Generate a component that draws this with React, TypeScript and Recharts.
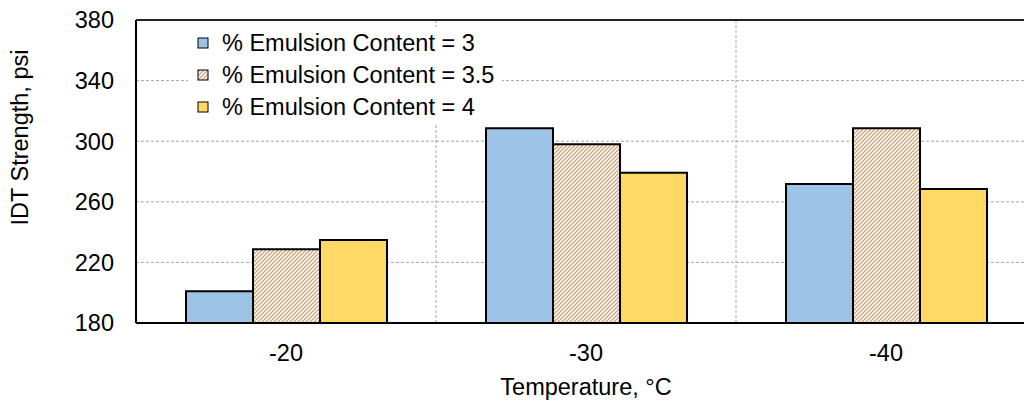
import React from "react";
import {
  BarChart,
  Bar,
  XAxis,
  YAxis,
  CartesianGrid,
  Legend,
  ReferenceLine,
} from "recharts";

const categories = ["-20", "-30", "-40"];
const emulsion3 = [201, 308.5, 271.7];
const emulsion35 = [228.6, 298, 308.5];
const emulsion4 = [234.8, 279.2, 268.4];
const yTicks = [180, 220, 260, 300, 340, 380];

const SERIES = [
  { key: "e3", name: "% Emulsion Content = 3", fill: "#9DC3E6" },
  { key: "e35", name: "% Emulsion Content = 3.5", fill: "url(#hatch)" },
  { key: "e4", name: "% Emulsion Content = 4", fill: "#FFD966" },
];

const data = categories.map((c, i) => ({
  temp: c,
  e3: emulsion3[i],
  e35: emulsion35[i],
  e4: emulsion4[i],
}));

const FONT = '"Liberation Sans", Arial, sans-serif';
const FS = 23.5;

function LegendBox() {
  return (
    <div
      style={{
        background: "#fff",
        padding: "0 8px 0 9px",
        fontFamily: FONT,
        fontSize: FS,
        color: "#000",
      }}
    >
      {SERIES.map((s) => (
        <div
          key={s.key}
          style={{ display: "flex", alignItems: "center", height: 32 }}
        >
          <svg width={12} height={12} style={{ marginRight: 13 }}>
            <rect x={1} y={1} width={10} height={10} fill={s.fill} stroke="#000" strokeWidth={1} />
          </svg>
          <span>{s.name}</span>
        </div>
      ))}
    </div>
  );
}

function YTitle(props: any) {
  const vb = props.viewBox;
  const x = vb.x + 20;
  const y = vb.y + vb.height / 2 - 34;
  return (
    <text
      x={x}
      y={y}
      transform={`rotate(-90, ${x}, ${y})`}
      textAnchor="middle"
      dominantBaseline="central"
      fontSize={FS}
      fontFamily={FONT}
      fill="#000"
    >
      IDT Strength, psi
    </text>
  );
}

export default function App() {
  return (
    <div
      style={{
        position: "absolute",
        left: 0,
        top: 0,
        width: 1024,
        height: 402,
        overflow: "hidden",
        background: "#fff",
      }}
    >
      <BarChart
        width={1040}
        height={402}
        data={data}
        margin={{ top: 20, right: 4, bottom: 0, left: 0 }}
        barCategoryGap="16.67%"
        barGap={0}
        style={{ fontFamily: FONT }}
      >
        <defs>
          <pattern id="hatch" width={4} height={4} patternUnits="userSpaceOnUse">
            <rect width={4} height={4} fill="#FFF8EE" />
            <path d="M-1,1 l2,-2 M0,4 l4,-4 M3,5 l2,-2" stroke="#C49C76" strokeWidth={1.2} />
          </pattern>
        </defs>
        <CartesianGrid
          stroke="#A6A6A6"
          strokeDasharray="3 2"
          verticalCoordinatesGenerator={({ offset }: any) => [
            offset.left + offset.width / 3,
            offset.left + (2 * offset.width) / 3,
          ]}
        />
        <XAxis
          dataKey="temp"
          height={79}
          tickLine={false}
          tickSize={0}
          tickMargin={21}
          axisLine={{ stroke: "#000", strokeWidth: 2 }}
          tick={{ fill: "#000", fontSize: FS }}
          label={{
            value: "Temperature, °C",
            position: "insideBottom",
            offset: 7,
            fill: "#000",
            fontSize: FS,
          }}
        />
        <YAxis
          width={136}
          domain={[180, 380]}
          ticks={yTicks}
          tickLine={false}
          tickSize={0}
          tickMargin={22}
          axisLine={{ stroke: "#000", strokeWidth: 2 }}
          tick={{ fill: "#000", fontSize: FS }}
          label={<YTitle />}
        />
        <ReferenceLine y={380} stroke="#222" strokeWidth={2} />
        {SERIES.map((s) => (
          <Bar
            key={s.key}
            dataKey={s.key}
            name={s.name}
            fill={s.fill}
            stroke="#000"
            strokeWidth={2}
            isAnimationActive={false}
          />
        ))}
        <Legend
          layout="vertical"
          align="center"
          verticalAlign="middle"
          content={() => <LegendBox />}
          wrapperStyle={{ left: 188, top: 27, width: "auto", height: "auto" }}
        />
      </BarChart>
    </div>
  );
}
